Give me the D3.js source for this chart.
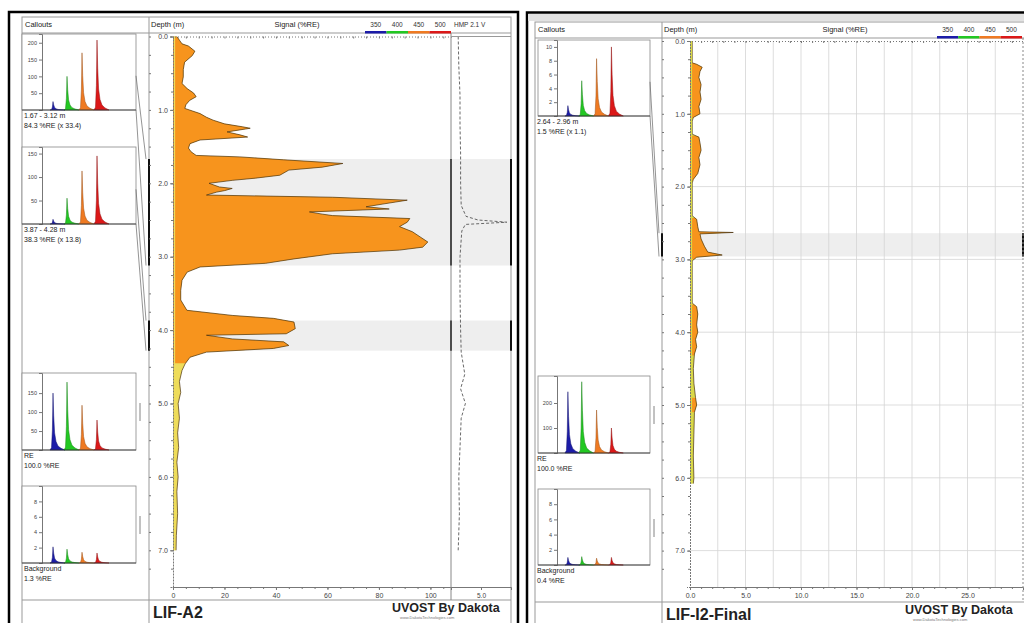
<!DOCTYPE html>
<html>
<head>
<meta charset="utf-8">
<script src="https://cdnjs.cloudflare.com/ajax/libs/d3/7.8.5/d3.min.js"></script>
<style>
  body { margin: 0; background: #fff; }
  svg { display: block; font-family: "Liberation Sans", Arial, sans-serif; }
  .tick text { fill: #444; }
  .tick line, .domain { stroke: #777; }
</style>
</head>
<body>
<script>
'use strict';

// ---------- shared data ----------
const depthTicks = [0, 1, 2, 3, 4, 5, 6, 7];
const legendLabels = ["350", "400", "450", "500"];
const channelColors = ["#1c1ca8", "#22c822", "#ef7a22", "#dc1818"];
const peakTimes = [11, 25, 40, 55];           // ns, one per channel
const pulseOffsets = [-3, -1.5, -0.6, 0, 0.7, 1.6, 3, 5, 8, 12];
const pulseLevels = [0, 0.04, 0.35, 1, 0.6, 0.3, 0.15, 0.07, 0.03, 0];

// ---------- LIF-A2 ----------
const a2Depth = [0.00, 0.05, 0.10, 0.13, 0.20, 0.26, 0.35, 0.45, 0.55, 0.64, 0.71, 0.77, 0.82, 0.87, 0.93, 0.98,
  1.05, 1.10, 1.14, 1.19, 1.23, 1.25, 1.30, 1.34, 1.37, 1.41, 1.46, 1.52, 1.57, 1.62, 1.64, 1.68, 1.73, 1.78,
  1.82, 1.89, 1.93, 1.96, 2.00, 2.05, 2.07, 2.10, 2.12, 2.16, 2.19, 2.23, 2.28, 2.32, 2.35, 2.39, 2.42, 2.44,
  2.48, 2.53, 2.59, 2.66, 2.73, 2.80, 2.87, 2.91, 2.96, 3.03, 3.09, 3.14, 3.21, 3.32, 3.46, 3.59, 3.73, 3.80,
  3.84, 3.89, 3.98, 4.05, 4.07, 4.12, 4.16, 4.21, 4.25, 4.30, 4.37, 4.46, 4.55, 4.70, 4.85, 5.00, 5.20, 5.40,
  5.60, 5.80, 6.00, 6.20, 6.50, 6.80, 7.00];
const a2Signal = [1.5, 2.5, 3.5, 6, 8.5, 7.5, 4.5, 4, 4, 3.5, 5.5, 8, 9, 6.5, 5, 4.6,
  10.5, 13, 15.6, 20, 27, 30, 21, 26, 29, 10.5, 6.6, 6, 7, 9, 26, 43, 66, 58,
  45, 41.5, 32, 23, 14, 18, 23, 20, 17, 13, 62, 91, 82, 75, 84, 53, 58, 62,
  92, 91, 88, 93, 96, 99, 97, 88, 62, 47, 36, 10.5, 5.5, 3.5, 3, 3, 5.4, 23,
  39, 47, 47.5, 44, 13, 23, 43, 45, 39, 13, 6.6, 4.7, 3.5, 2.5, 3, 2, 2.5, 1.8,
  2.2, 1.5, 2, 1.5, 1.8, 1.3, 1.2];
const a2OrangeBands = [[0, 4.45]];
const a2Bands = [[1.67, 3.12], [3.87, 4.28]];
const a2HmpDepth = [0.0, 0.4, 0.8, 1.2, 1.6, 2.0, 2.3, 2.45, 2.5, 2.53, 2.56, 2.65, 3.0, 3.5, 4.0, 4.3, 4.6, 4.8, 5.0, 5.2, 5.6, 6.0, 6.5, 7.0];
const a2Hmp = [1.2, 1.3, 1.5, 1.5, 1.6, 1.6, 1.7, 2.5, 4.5, 9.3, 2.4, 1.8, 1.5, 1.5, 1.6, 1.7, 2.3, 1.6, 2.4, 1.7, 1.5, 1.3, 1.4, 1.2];
const a2XTicks = [0, 20, 40, 60, 80, 100];
const a2CalloutText = [["1.67 - 3.12 m", "84.3 %RE (x 33.4)"], ["3.87 - 4.28 m", "38.3 %RE (x 13.8)"], ["RE", "100.0 %RE"], ["Background", "1.3 %RE"]];
const a2CalloutPeaks = [[25, 100, 170, 208], [10, 55, 113, 145], [150, 179, 118, 79], [2.1, 1.8, 1.4, 1.3]];
const a2CalloutTicks = [[50, 100, 150, 200], [50, 100, 150], [50, 100, 150], [2, 4, 6, 8]];
const a2CalloutMax = [226, 164, 203, 10];

// ---------- LIF-I2-Final ----------
const i2Depth = [0.00, 0.30, 0.32, 0.36, 0.42, 0.50, 0.60, 0.70, 0.80, 0.90, 1.00, 1.05, 1.10, 1.28, 1.32, 1.40,
  1.50, 1.60, 1.70, 1.82, 1.90, 1.95, 2.40, 2.45, 2.55, 2.62, 2.63, 2.65, 2.72, 2.82, 2.90, 2.94, 2.97, 3.02,
  3.60, 3.65, 3.75, 3.90, 4.00, 4.10, 4.20, 4.30, 4.50, 4.70, 4.90, 5.00, 5.10, 5.40, 5.70, 6.00, 6.08];
const i2Signal = [0.2, 0.2, 0.6, 1.1, 0.9, 0.8, 1.0, 0.9, 1.0, 0.8, 0.9, 0.3, 0.2, 0.2, 0.8, 0.9,
  1.0, 0.8, 0.9, 0.7, 0.3, 0.2, 0.2, 0.6, 0.7, 0.8, 3.9, 0.9, 1.0, 1.3, 1.6, 2.9, 0.6, 0.2,
  0.2, 0.6, 0.7, 0.6, 0.7, 0.5, 0.6, 0.4, 0.3, 0.35, 0.5, 0.6, 0.4, 0.35, 0.3, 0.35, 0.3];
const i2OrangeBands = [[0.3, 1.06], [1.3, 1.92], [2.43, 3.0], [3.62, 4.32], [4.9, 5.1]];
const i2Bands = [[2.64, 2.96]];
const i2XTicks = [0, 5, 10, 15, 20, 25];
const i2CalloutText = [["2.64 - 2.96 m", "1.5 %RE (x 1.1)"], ["RE", "100.0 %RE"], ["Background", "0.4 %RE"]];
const i2CalloutPeaks = [[1.5, 5.1, 8.3, 10], [245, 285, 172, 100], [1.0, 1.1, 0.9, 1.0]];
const i2CalloutTicks = [[2, 4, 6, 8, 10], [100, 200], [2, 4, 6, 8]];
const i2CalloutMax = [11, 308, 10];

const svg = d3.select('body').append('svg')
  .attr('width', 1024)
  .attr('height', 623);

// one callout box with its 4-channel waveform
function drawCallout(g, box, axisX, maxV, ticks, peaks, text, leftX) {
  const cy = d3.scaleLinear().domain([0, maxV]).range([box.y1, box.y0]);
  const ct = d3.scaleLinear().domain([0, 94]).range([axisX, box.x1]);

  g.append('rect')
    .attr('x', box.x0).attr('y', box.y0)
    .attr('width', box.x1 - box.x0).attr('height', box.y1 - box.y0)
    .attr('fill', '#fff').attr('stroke', '#888').attr('stroke-width', 0.8);

  const ax = g.append('g')
    .attr('transform', `translate(${axisX},0)`)
    .style('font-size', '5.5px')
    .call(d3.axisLeft(cy).tickValues(ticks).tickSize(3).tickPadding(2).tickFormat(d3.format('d')));
  ax.select('.domain').attr('stroke', '#555');

  const area = d3.area()
    .x(d => ct(d[0]))
    .y0(cy(0))
    .y1(d => cy(d[1]))
    .curve(d3.curveLinear);

  peaks.forEach((h, i) => {
    const pts = pulseOffsets.map((o, k) => [peakTimes[i] + o, h * pulseLevels[k]]);
    g.append('path')
      .attr('d', area(pts))
      .attr('fill', channelColors[i])
      .attr('stroke', d3.color(channelColors[i]).darker(1.2))
      .attr('stroke-width', 0.5);
  });

  g.append('line')
    .attr('x1', box.x0).attr('x2', box.x1)
    .attr('y1', cy(0)).attr('y2', cy(0))
    .attr('stroke', '#333').attr('stroke-width', 0.8);

  text.forEach((t, i) => {
    g.append('text')
      .attr('x', leftX).attr('y', box.y1 + 8 + i * 10)
      .style('font-size', '7px').attr('fill', '#222')
      .text(t);
  });
}

function drawPanel(p) {
  const g = svg.append('g');

  // outer black border
  g.append('rect')
    .attr('x', p.outerX0).attr('y', p.outerY)
    .attr('width', p.outerX1 - p.outerX0).attr('height', 700)
    .attr('fill', 'none').attr('stroke', '#000').attr('stroke-width', 2.5);

  if (p.topStrip) {
    g.append('rect').attr('x', p.outerX0 + 1).attr('y', p.outerY + 1.5)
      .attr('width', p.outerX1 - p.outerX0).attr('height', 7).attr('fill', '#e2e2e2');
  }

  // inner frame
  g.append('rect')
    .attr('x', p.frameX0).attr('y', p.frameTop)
    .attr('width', p.frameX1 - p.frameX0).attr('height', 700)
    .attr('fill', 'none').attr('stroke', '#999').attr('stroke-width', 1);
  const hl = [p.headerBottom, p.footerTop];
  hl.forEach(yy => g.append('line')
    .attr('x1', p.frameX0).attr('x2', p.frameX1).attr('y1', yy).attr('y2', yy)
    .attr('stroke', '#999'));
  g.append('line')
    .attr('x1', p.colRight).attr('x2', p.colRight).attr('y1', p.frameTop).attr('y2', 623)
    .attr('stroke', '#999');

  const y = d3.scaleLinear().domain([0, 7.5]).range([p.yTop, p.yBottom]);
  const x = d3.scaleLinear().domain(p.xDomain).range([p.axisX, p.plotRight]);

  // callout bands
  p.bands.forEach(b => {
    g.append('rect')
      .attr('x', p.axisX).attr('y', y(b[0]))
      .attr('width', p.bandRight - p.axisX).attr('height', y(b[1]) - y(b[0]))
      .attr('fill', '#eeeeee');
    p.bandBars.forEach(bx => g.append('line')
      .attr('x1', bx).attr('x2', bx).attr('y1', y(b[0])).attr('y2', y(b[1]))
      .attr('stroke', '#111').attr('stroke-width', 2));
  });

  // grid (right panel only)
  if (p.grid) {
    const gx = d3.range(p.xDomain[0] + 2.5, p.xDomain[1], 2.5);
    gx.forEach(v => g.append('line')
      .attr('x1', x(v)).attr('x2', x(v)).attr('y1', p.yTop).attr('y2', p.yBottom)
      .attr('stroke', '#d4d4d4').attr('stroke-width', 0.8));
    depthTicks.slice(1).forEach(v => g.append('line')
      .attr('x1', p.axisX).attr('x2', p.plotRight).attr('y1', y(v)).attr('y2', y(v))
      .attr('stroke', '#d4d4d4').attr('stroke-width', 0.8));
  }

  // signal log
  const rows = p.depth.map((d, i) => [d, p.signal[i]]);
  const area = d3.area()
    .y(d => y(d[0]))
    .x0(x(0))
    .x1(d => x(d[1]));
  const edge = d3.line()
    .y(d => y(d[0]))
    .x(d => x(d[1]));

  const clipId = 'clip-' + p.name;
  const clip = g.append('clipPath').attr('id', clipId);
  p.orangeBands.forEach(b => clip.append('rect')
    .attr('x', 0).attr('y', y(b[0])).attr('width', 1024).attr('height', y(b[1]) - y(b[0])));

  g.append('path').attr('d', area(rows)).attr('fill', p.yellow);
  g.append('path').attr('d', area(rows)).attr('fill', '#f7941d').attr('clip-path', `url(#${clipId})`);
  g.append('path').attr('d', edge(rows)).attr('fill', 'none')
    .attr('stroke', '#4a3010').attr('stroke-width', 0.7);
  g.append('line')
    .attr('x1', x(0) + 1.5).attr('x2', x(0) + 1.5)
    .attr('y1', y(p.depth[0])).attr('y2', y(p.depth[p.depth.length - 1]))
    .attr('stroke', p.yellow).attr('stroke-width', 1.2);

  // depth axis
  const dAx = g.append('g')
    .attr('transform', `translate(${p.axisX},0)`)
    .style('font-size', '7px')
    .call(d3.axisLeft(y).tickValues(depthTicks).tickSize(3).tickPadding(2).tickFormat(d3.format('.1f')));
  dAx.select('.domain').attr('stroke', '#666').attr('stroke-dasharray', '2,1');
  g.append('g')
    .attr('transform', `translate(${p.axisX},0)`)
    .call(d3.axisLeft(y).tickValues(d3.range(0, 7.5, 0.25)).tickSize(2).tickFormat(''))
    .select('.domain').remove();
  g.append('g')
    .attr('transform', `translate(${p.colRight},0)`)
    .call(d3.axisRight(y).tickValues(d3.range(0, 7.5, 0.25)).tickSize(2).tickFormat(''))
    .select('.domain').remove();

  // bottom axis
  const bAx = g.append('g')
    .attr('transform', `translate(0,${p.yBottom})`)
    .style('font-size', '7px')
    .call(d3.axisBottom(x).tickValues(p.xTicks).tickSize(3).tickPadding(3).tickFormat(d3.format(p.xFormat)));
  bAx.select('.domain').attr('stroke', '#666');
  g.append('g')
    .attr('transform', `translate(0,${p.yBottom})`)
    .call(d3.axisBottom(x).tickValues(d3.range(p.xDomain[0], p.xDomain[1], p.minorStep)).tickSize(2).tickFormat(''))
    .select('.domain').remove();
  // top ticks
  g.append('g')
    .attr('transform', `translate(0,${p.yTop})`)
    .call(d3.axisBottom(x).tickValues(d3.range(p.xDomain[0], p.xDomain[1], p.minorStep)).tickSize(2).tickFormat(''))
    .select('.domain').attr('stroke', '#888').attr('stroke-dasharray', '1,2');
  // plot right edge
  g.append('line')
    .attr('x1', p.plotRight).attr('x2', p.plotRight).attr('y1', p.headerBottom).attr('y2', p.footerTop)
    .attr('stroke', '#888').attr('stroke-dasharray', p.grid ? '2,2' : null);

  // headers
  const hy = p.headerBottom - 6;
  g.append('text').attr('x', p.frameX0 + 3).attr('y', hy).style('font-size', '7.5px').attr('fill', '#222').text('Callouts');
  g.append('text').attr('x', p.colRight + 2).attr('y', hy).style('font-size', '7.5px').attr('fill', '#222').text('Depth (m)');
  g.append('text').attr('x', p.signalTitleX).attr('y', hy).attr('text-anchor', 'middle')
    .style('font-size', '7.5px').attr('fill', '#222').text('Signal (%RE)');

  // wavelength legend
  const lx = d3.scaleBand().domain(legendLabels).range([p.legendX0, p.legendX1]);
  legendLabels.forEach((l, i) => {
    g.append('text').attr('x', lx(l) + lx.bandwidth() / 2).attr('y', hy).attr('text-anchor', 'middle')
      .style('font-size', '6.5px').attr('fill', '#333').text(l);
    g.append('rect').attr('x', lx(l)).attr('y', p.headerBottom - 2).attr('width', lx.bandwidth()).attr('height', 2.5)
      .attr('fill', channelColors[i]);
  });

  // right track (LIF-A2 only)
  if (p.hmpDepth) {
    const hx = d3.scaleLinear().domain([0, 10]).range([p.plotRight, p.frameX1]);
    const hLine = d3.line().y(d => y(d[0])).x(d => hx(d[1]));
    g.append('path')
      .attr('d', hLine(p.hmpDepth.map((d, i) => [d, p.hmp[i]])))
      .attr('fill', 'none').attr('stroke', '#444').attr('stroke-width', 0.8).attr('stroke-dasharray', '3,2');
    g.append('text').attr('x', p.plotRight + 3).attr('y', hy).style('font-size', '6.5px').attr('fill', '#333').text('HMP 2.1 V');
    g.append('g')
      .attr('transform', `translate(0,${p.yBottom})`)
      .style('font-size', '6.5px')
      .call(d3.axisBottom(hx).tickValues([5]).tickSize(3).tickFormat(d3.format('.1f')))
      .select('.domain').attr('stroke', '#666');
    g.append('line').attr('x1', hx(0)).attr('x2', hx(10)).attr('y1', p.yTop).attr('y2', p.yTop).attr('stroke', '#999');
  }

  // callouts
  p.boxes.forEach((box, i) => {
    drawCallout(g, box, p.calloutAxisX, p.calloutMax[i], p.calloutTicks[i], p.calloutPeaks[i], p.calloutText[i], p.frameX0 + 2);
  });

  // connectors from the depth callouts to their bands
  p.bands.forEach((b, i) => {
    const box = p.boxes[i];
    [[box.y0 + (box.y1 - box.y0) * 0.55, b[0]], [box.y1, b[1]]].forEach(c => g.append('line')
      .attr('x1', box.x1).attr('y1', c[0]).attr('x2', p.colRight - 3).attr('y2', y(c[1]))
      .attr('stroke', '#666').attr('stroke-width', 0.7));
  });
  // small RE / background markers
  p.boxes.slice(p.bands.length).forEach(box => g.append('line')
    .attr('x1', box.x1 + 4).attr('x2', box.x1 + 4)
    .attr('y1', box.y0 + 30).attr('y2', box.y0 + 48)
    .attr('stroke', '#666').attr('stroke-width', 0.8));

  // footer
  g.append('text').attr('x', p.colRight + 4).attr('y', p.footerTop + 18)
    .style('font-size', '16px').style('font-weight', 'bold').attr('fill', '#222').text(p.name);
  g.append('text').attr('x', p.brandX).attr('y', p.footerTop + 12)
    .style('font-size', '12.5px').style('font-weight', 'bold').attr('fill', '#222').text('UVOST By Dakota');
  g.append('text').attr('x', p.brandX + 8).attr('y', p.footerTop + 19)
    .style('font-size', '4px').attr('fill', '#777').text('www.DakotaTechnologies.com');
}

drawPanel({
  name: 'LIF-A2',
  outerX0: 9, outerX1: 518, outerY: 12, topStrip: false,
  frameX0: 22, frameX1: 511, frameTop: 17, headerBottom: 33, footerTop: 600,
  colRight: 149, axisX: 173, plotRight: 451, bandRight: 511,
  bandBars: [149, 451, 511],
  yTop: 36.5, yBottom: 587,
  xDomain: [0, 108], xTicks: a2XTicks, xFormat: 'd', minorStep: 5, grid: false,
  depth: a2Depth, signal: a2Signal, orangeBands: a2OrangeBands, bands: a2Bands, yellow: '#eedc5a',
  hmpDepth: a2HmpDepth, hmp: a2Hmp,
  signalTitleX: 297, legendX0: 365, legendX1: 451,
  calloutAxisX: 42,
  boxes: [{x0: 22, x1: 136, y0: 34, y1: 110}, {x0: 22, x1: 136, y0: 147, y1: 224},
          {x0: 22, x1: 136, y0: 373, y1: 450}, {x0: 22, x1: 136, y0: 486, y1: 563}],
  calloutMax: a2CalloutMax, calloutTicks: a2CalloutTicks, calloutPeaks: a2CalloutPeaks, calloutText: a2CalloutText,
  brandX: 392
});

drawPanel({
  name: 'LIF-I2-Final',
  outerX0: 527, outerX1: 1030, outerY: 12.5, topStrip: true,
  frameX0: 535, frameX1: 1030, frameTop: 22, headerBottom: 38, footerTop: 602,
  colRight: 662, axisX: 690, plotRight: 1023, bandRight: 1023,
  bandBars: [662, 1023],
  yTop: 41, yBottom: 587,
  xDomain: [0, 30], xTicks: i2XTicks, xFormat: '.1f', minorStep: 1, grid: true,
  depth: i2Depth, signal: i2Signal, orangeBands: i2OrangeBands, bands: i2Bands, yellow: '#d8d84a',
  signalTitleX: 845, legendX0: 937, legendX1: 1022,
  calloutAxisX: 557,
  boxes: [{x0: 538, x1: 650, y0: 40, y1: 116}, {x0: 538, x1: 650, y0: 376, y1: 453},
          {x0: 538, x1: 650, y0: 489, y1: 565}],
  calloutMax: i2CalloutMax, calloutTicks: i2CalloutTicks, calloutPeaks: i2CalloutPeaks, calloutText: i2CalloutText,
  brandX: 905
});
</script>
</body>
</html>
